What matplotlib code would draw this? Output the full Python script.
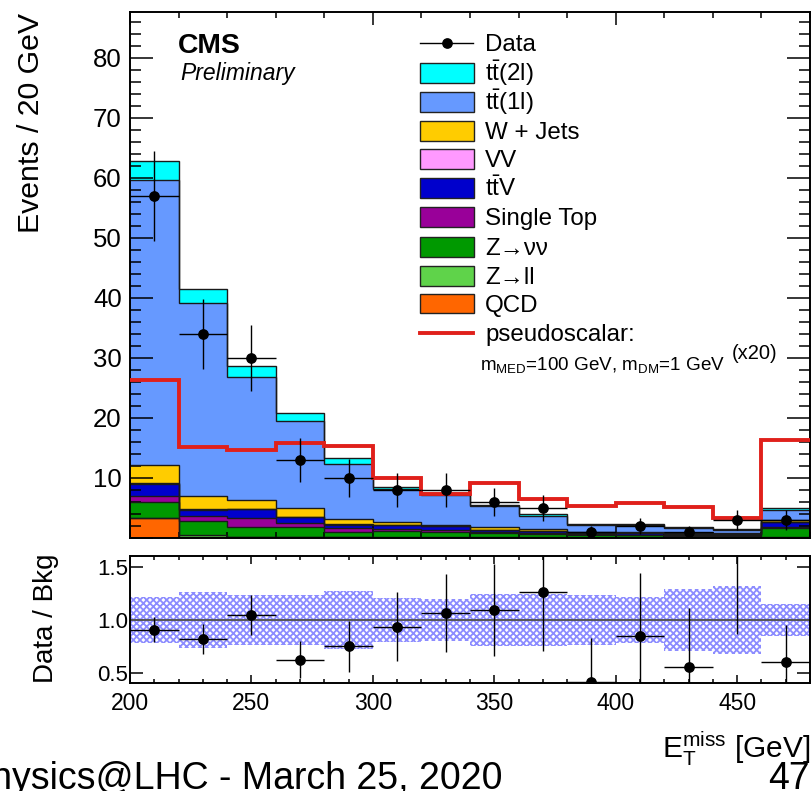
import numpy as np
import matplotlib
matplotlib.use("Agg")
import matplotlib.pyplot as plt
from matplotlib.patches import Rectangle
from matplotlib.lines import Line2D
from matplotlib.ticker import MultipleLocator, FixedLocator, FuncFormatter, FormatStrFormatter

plt.rcParams['font.family'] = ['Liberation Sans', 'DejaVu Sans']
plt.rcParams['mathtext.fontset'] = 'custom'
plt.rcParams['mathtext.rm'] = 'Liberation Sans'
plt.rcParams['mathtext.it'] = 'Liberation Sans:italic'
plt.rcParams['mathtext.bf'] = 'Liberation Sans:bold'
plt.rcParams['hatch.linewidth'] = 1.3

# ---- binning (MET, 20 GeV bins) ----
bin_edges = np.arange(200, 481, 20)
bin_centers = 0.5 * (bin_edges[:-1] + bin_edges[1:])

# ---- observed data ----
data_counts = [57, 34, 30, 13, 10, 8, 8, 6, 5, 1, 2, 1, 3, 3]
data_err = [7.5, 5.8, 5.5, 3.6, 3.2, 2.8, 2.8, 2.4, 2.2, 1.0, 1.4, 1.0, 1.7, 1.7]

# ---- background processes (events / bin) ----
qcd = [3.3, 0.2, 0.1, 0.1, 0.1, 0.05, 0.05, 0.05, 0.05, 0.02, 0.02, 0.02, 0.02, 0.05]
z_ll = [0.05, 0.3, 0.1, 0.1, 0.1, 0.1, 0.1, 0.1, 0.05, 0.05, 0.05, 0.05, 0.05, 0.1]
z_nunu = [2.6, 2.3, 1.6, 1.6, 0.8, 1.0, 0.9, 0.6, 0.5, 0.4, 0.35, 0.3, 0.3, 1.5]
single_top = [1.0, 0.8, 1.6, 0.7, 0.6, 0.4, 0.3, 0.3, 0.25, 0.15, 0.15, 0.1, 0.1, 0.15]
ttv = [2.1, 1.1, 1.4, 1.0, 0.6, 0.6, 0.6, 0.3, 0.3, 0.2, 0.2, 0.15, 0.15, 0.8]
vv = [0.05, 0.05, 0.05, 0.05, 0.05, 0.05, 0.05, 0.05, 0.05, 0.03, 0.03, 0.03, 0.03, 0.05]
w_jets = [3.0, 2.3, 1.4, 1.5, 0.9, 0.45, 0.2, 0.4, 0.3, 0.15, 0.15, 0.15, 0.1, 0.3]
tt_1l = [47.6, 32.15, 20.55, 14.5, 9.15, 5.5, 4.95, 3.45, 2.15, 1.2, 1.25, 0.9, 0.65, 1.7]
tt_2l = [3.1, 2.3, 1.9, 1.25, 1.0, 0.4, 0.35, 0.25, 0.3, 0.2, 0.15, 0.1, 0.1, 0.3]

# ---- signal: pseudoscalar mediator (x20) ----
signal = [26.3, 15.2, 14.7, 15.9, 15.4, 10.0, 7.4, 9.1, 6.5, 5.4, 5.9, 5.2, 3.4, 16.3]

# ---- relative background uncertainty ----
bkg_rel_unc = [0.22, 0.265, 0.237, 0.237, 0.272, 0.21, 0.2, 0.25, 0.25, 0.235, 0.22, 0.29, 0.32, 0.15]

legend_labels = ['Data', r'$\mathrm{t\bar{t}}$(2l)', r'$\mathrm{t\bar{t}}$(1l)', 'W + Jets', 'VV',
                 r'$\mathrm{t\bar{t}}$V', 'Single Top', 'Z\u2192\u03bd\u03bd', 'Z\u2192ll', 'QCD',
                 'pseudoscalar:']

colors = {
    'qcd': '#ff6600', 'z_ll': '#5fd34a', 'z_nunu': '#009900', 'single_top': '#990099',
    'ttv': '#0000cc', 'vv': '#ff99ff', 'w_jets': '#ffcc00', 'tt_1l': '#6699ff', 'tt_2l': '#00ffff',
}
sig_color = '#e0201b'

stack = [(qcd, colors['qcd']), (z_ll, colors['z_ll']), (z_nunu, colors['z_nunu']),
         (single_top, colors['single_top']), (ttv, colors['ttv']), (vv, colors['vv']),
         (w_jets, colors['w_jets']), (tt_1l, colors['tt_1l']), (tt_2l, colors['tt_2l'])]

W, H = 812, 791
fig = plt.figure(figsize=(W / 100, H / 100), dpi=100)


def box(l, t, r, b):
    return [l / W, 1 - b / H, (r - l) / W, (b - t) / H]


def fx(x):
    return x / W


def fy(y):
    return 1 - y / H


ax = fig.add_axes(box(130, 12, 810, 538))
rax = fig.add_axes(box(130, 555.5, 810, 682.5))

# ---- stacked backgrounds ----
base = np.zeros(len(bin_centers))
tops = []
for vals, col in stack:
    top = base + np.asarray(vals)
    ax.stairs(top, bin_edges, baseline=base, fill=True, facecolor=col, edgecolor='none', zorder=1)
    tops.append(top)
    base = top
for top in tops:
    ax.stairs(top, bin_edges, baseline=None, color='#1a1a1a', lw=1.0, zorder=2)
total_bkg = base

# ---- signal ----
ax.stairs(signal, bin_edges, baseline=None, color=sig_color, lw=2.8, zorder=3)

# ---- data ----
ax.errorbar(bin_centers, data_counts, yerr=data_err, xerr=10, fmt='o', color='black',
            ms=6.7, lw=1.0, capsize=0, zorder=4)

ax.set_xlim(200, 480)
ax.set_ylim(0, 87.6)
ax.xaxis.set_major_locator(MultipleLocator(100))
ax.xaxis.set_minor_locator(MultipleLocator(20))
ax.yaxis.set_major_locator(MultipleLocator(10))
ax.yaxis.set_minor_locator(MultipleLocator(2))
ax.yaxis.set_major_formatter(FuncFormatter(lambda v, p: '' if v < 1 else f'{v:.0f}'))
ax.tick_params(axis='x', which='both', direction='in', top=True, bottom=True,
               labelbottom=False, width=1.1)
ax.tick_params(axis='x', which='major', length=9.4)
ax.tick_params(axis='x', which='minor', length=4.3)
ax.tick_params(axis='y', which='both', direction='in', left=True, right=True,
               labelsize=18.5, pad=6, width=1.1)
ax.tick_params(axis='y', which='major', length=16.5)
ax.tick_params(axis='y', which='minor', length=8)
for sp in ax.spines.values():
    sp.set_linewidth(1.4)

# ---- ratio panel ----
total_bkg = np.asarray(total_bkg)
ratio = np.asarray(data_counts) / total_bkg
ratio_err = np.asarray(data_err) / total_bkg
unc = np.asarray(bkg_rel_unc)
rax.stairs(1 + unc, bin_edges, baseline=1 - unc, fill=True, facecolor='white',
           edgecolor='#8c8cff', hatch='xxxxx', lw=0, zorder=1)
rax.axhline(1.0, color='#555555', lw=1.4, zorder=2)
rax.errorbar(bin_centers, ratio, yerr=ratio_err, xerr=10, fmt='o', color='black',
             ms=6.7, lw=1.0, capsize=0, zorder=3)
rax.set_xlim(200, 480)
rax.set_ylim(0.408, 1.611)
rax.xaxis.set_major_locator(MultipleLocator(50))
rax.xaxis.set_minor_locator(MultipleLocator(10))
rax.yaxis.set_major_locator(FixedLocator([0.5, 1.0, 1.5]))
rax.yaxis.set_major_formatter(FormatStrFormatter('%.1f'))
rax.tick_params(axis='x', which='both', direction='in', top=True, bottom=True,
                labelsize=16.5, pad=7, width=1.1)
rax.tick_params(axis='x', which='major', length=5.8)
rax.tick_params(axis='x', which='minor', length=2.9)
rax.tick_params(axis='y', which='major', direction='in', left=True, right=True,
                labelsize=16, pad=1.5, length=9.1, width=1.1)
for sp in rax.spines.values():
    sp.set_linewidth(1.4)

# ---- axis titles ----
fig.text(fx(31), fy(13), 'Events / 20 GeV', rotation=90, ha='center', va='top', fontsize=21.8)
fig.text(fx(46), fy(618), 'Data / Bkg', rotation=90, ha='center', va='center', fontsize=20)
fig.text(fx(810), fy(758), r'$\mathrm{E}_{\mathrm{T}}^{\mathrm{miss}}$ [GeV]', ha='right',
         va='baseline', fontsize=21.5)

# ---- CMS label ----
fig.text(fx(178), fy(53), 'CMS', fontweight='bold', fontsize=20.4, va='baseline')
fig.text(fx(180), fy(80), 'Preliminary', style='italic', fontsize=16.5, va='baseline')

# ---- legend ----
row_y = [43, 73, 102, 131, 159, 188, 217, 247, 276, 304, 333]
fill_cols = [colors['tt_2l'], colors['tt_1l'], colors['w_jets'], colors['vv'], colors['ttv'],
             colors['single_top'], colors['z_nunu'], colors['z_ll'], colors['qcd']]
tf = fig.transFigure
# data entry
fig.add_artist(Line2D([fx(420), fx(473)], [fy(row_y[0]), fy(row_y[0])], color='black', lw=1.0,
                      transform=tf))
fig.add_artist(Line2D([fx(447)], [fy(row_y[0])], marker='o', ms=6.7, color='black', transform=tf))
for yc, col in zip(row_y[1:10], fill_cols):
    fig.add_artist(Rectangle((fx(420), fy(yc + 9.5)), 54 / W, 19 / H, facecolor=col,
                             edgecolor='#222222', lw=1.0, transform=tf))
fig.add_artist(Line2D([fx(420), fx(473)], [fy(row_y[10]), fy(row_y[10])], color=sig_color,
                      lw=2.8, transform=tf))
for yc, lab in zip(row_y, legend_labels):
    fig.text(fx(485), fy(yc + 8.3), lab, fontsize=17.4, va='baseline', ha='left')
fig.text(fx(480), fy(370), r'm$_{\mathrm{MED}}$=100 GeV, m$_{\mathrm{DM}}$=1 GeV', fontsize=13.6,
         va='baseline', ha='left')
fig.text(fx(732), fy(359), '(x20)', fontsize=14.5, va='baseline', ha='left')

# ---- footer ----
fig.text(fx(503), fy(789), 'Physics@LHC - March 25, 2020', ha='right', va='baseline', fontsize=27)
fig.text(fx(810), fy(789), '47', ha='right', va='baseline', fontsize=27)

fig.savefig('out.png', dpi=100)
